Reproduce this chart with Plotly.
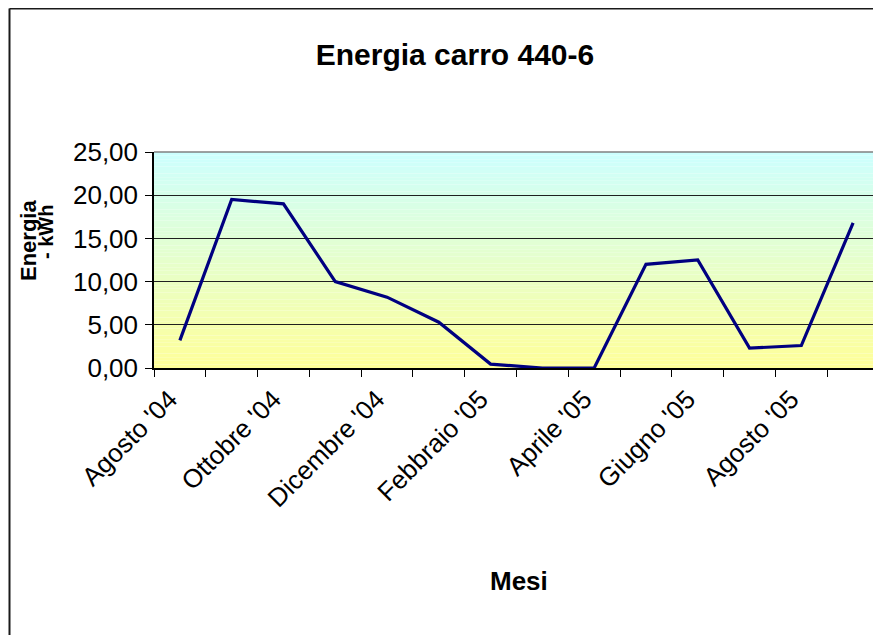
import plotly.graph_objects as go

months = ["Agosto '04", "Settembre '04", "Ottobre '04", "Novembre '04", "Dicembre '04",
          "Gennaio '05", "Febbraio '05", "Marzo '05", "Aprile '05", "Maggio '05",
          "Giugno '05", "Luglio '05", "Agosto '05", "Settembre '05"]
energy = [3.2, 19.5, 19.0, 10.0, 8.2, 5.3, 0.45, 0.0, 0.0, 12.0, 12.5, 2.3, 2.6, 16.8]
y_ticks = [0, 5, 10, 15, 20, 25]

idx = list(range(len(months)))

FONT = "Liberation Sans, Arial, sans-serif"

# page offset of the plot div (browser body margin)
OFF = 8
PAGE_W, PAGE_H = 881, 635
W, H = PAGE_W - OFF, PAGE_H - OFF
# plot area in page pixels
PL, PR, PT, PB = 154, 879, 152, 368
L, T = PL - OFF, PT - OFF
R = W - (PR - OFF)
B = H - (PB - OFF)
pw, ph = W - L - R, H - T - B


def px(xp):
    return (xp - PL) / pw


def py(yp):
    return (PB - yp) / ph


fig = go.Figure()
fig.add_trace(go.Scatter(x=idx, y=energy, mode="lines",
                         line=dict(color="#000080", width=3.2),
                         hoverinfo="skip", showlegend=False))

# vertical gradient background (cyan top -> yellow bottom)
shapes = []
n = 60
top = (204, 255, 255)
bot = (255, 255, 153)
for i in range(n):
    t = (i + 0.5) / n
    c = tuple(round(bot[k] + (top[k] - bot[k]) * t) for k in range(3))
    shapes.append(dict(type="rect", xref="x domain", yref="y domain",
                       x0=0, x1=1, y0=i / n, y1=(i + 1) / n,
                       fillcolor="rgb(%d,%d,%d)" % c, line=dict(width=0),
                       layer="below"))
# grey plot-area border (top, right)
shapes.append(dict(type="line", xref="x domain", yref="y domain", x0=0, x1=1, y0=1, y1=1,
                   line=dict(color="#808080", width=1.5)))
shapes.append(dict(type="line", xref="x domain", yref="y domain", x0=1, x1=1, y0=0, y1=1,
                   line=dict(color="#808080", width=1.5)))
# chart-area border (left, top)
bx, by = px(9.5), py(8.5)
shapes.append(dict(type="line", xref="paper", yref="paper", x0=bx, x1=1.2, y0=by, y1=by,
                   line=dict(color="#1a1a1a", width=2)))
shapes.append(dict(type="line", xref="paper", yref="paper", x0=bx, x1=bx, y0=by, y1=-2,
                   line=dict(color="#1a1a1a", width=2)))

annotations = [
    dict(text="<b>Mesi</b>", xref="paper", yref="paper",
         x=px(519), y=py(581), showarrow=False,
         font=dict(family=FONT, size=26, color="black"), xanchor="center", yanchor="middle"),
    dict(text="<b>Energia</b>", xref="paper", yref="paper", textangle=-90,
         x=px(28), y=py(241), showarrow=False,
         font=dict(family=FONT, size=22, color="black"), xanchor="center", yanchor="middle"),
    dict(text="<b>- kWh</b>", xref="paper", yref="paper", textangle=-90,
         x=px(46), y=py(232), showarrow=False,
         font=dict(family=FONT, size=20, color="black"), xanchor="center", yanchor="middle"),
]

fig.update_layout(
    width=W, height=H,
    margin=dict(l=L, r=R, t=T, b=B),
    paper_bgcolor="white", plot_bgcolor="white",
    separators=",.",
    title=dict(text="<b>Energia carro 440-6</b>", x=(455 - OFF) / W, xanchor="center",
               y=1 - (54 - OFF) / H, yanchor="middle", yref="container",
               font=dict(family=FONT, size=30, color="black")),
    shapes=shapes, annotations=annotations,
    xaxis=dict(range=[-0.5, len(months) - 0.5], tickvals=idx[::2], ticktext=months[::2],
               tickangle=-45, ticks="", showgrid=False, zeroline=False,
               showline=True, linecolor="black", linewidth=1.5,
               tickfont=dict(family=FONT, size=26, color="black"),
               ticklabelstandoff=4, ticklabelshift=-10,
               minor=dict(tickvals=[i - 0.5 for i in range(len(months) + 1)],
                          ticks="outside", ticklen=7, tickcolor="black", tickwidth=1,
                          showgrid=False)),
    yaxis=dict(range=[0, 25], tickvals=y_ticks, tickformat=".2f",
               ticks="outside", ticklen=7, tickcolor="black", tickwidth=1,
               showgrid=True, gridcolor="#202020", gridwidth=1, zeroline=False,
               showline=True, linecolor="black", linewidth=1.5,
               tickfont=dict(family=FONT, size=26, color="black"),
               ticklabelstandoff=2),
)

fig.write_html("out.html")
